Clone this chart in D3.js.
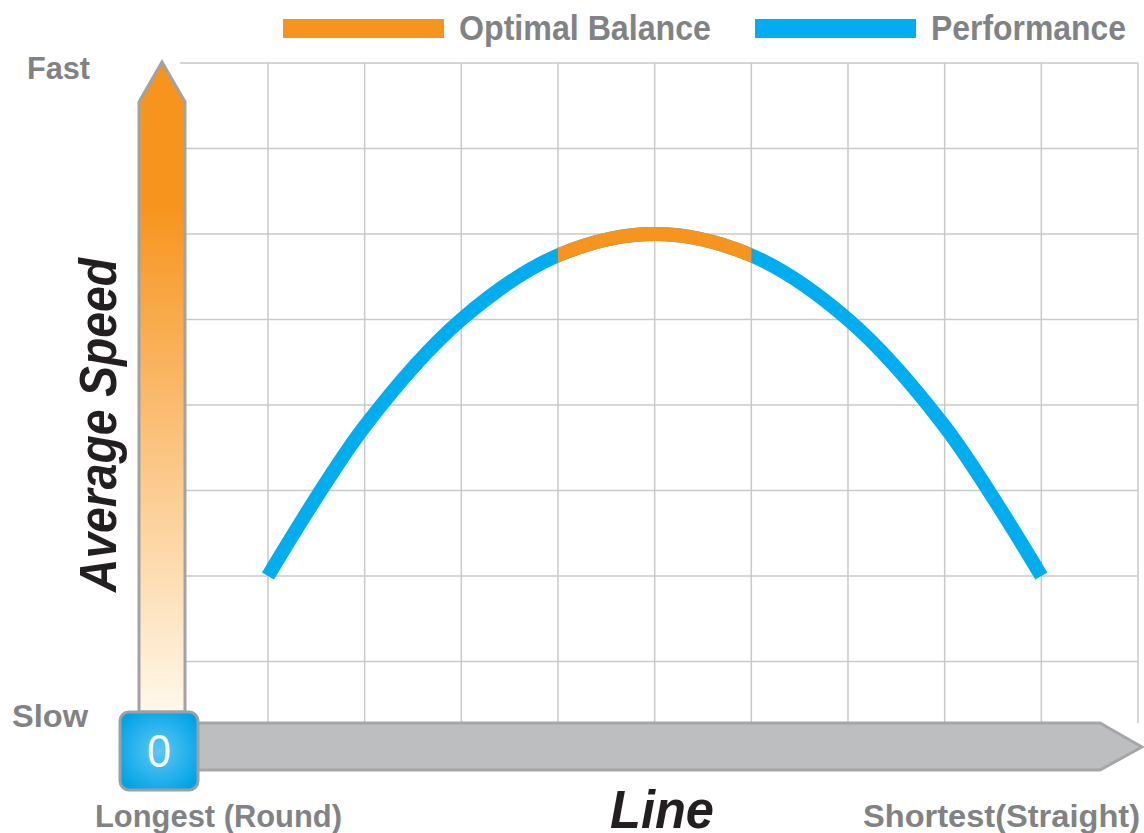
<!DOCTYPE html>
<html>
<head>
<meta charset="utf-8">
<script src="https://cdn.jsdelivr.net/npm/d3@7"></script>
<style>
  html, body { margin: 0; padding: 0; background: #fff; }
  svg { display: block; }
</style>
</head>
<body>
<svg id="chart" width="1144" height="833"></svg>
<script>
// Line position (1 = longest/round … 9 = shortest/straight) and average speed in grid units
const linePositions = [1, 2, 3, 4, 5, 6, 7, 8, 9];
const speedValues   = [2, 3.75, 5, 5.75, 6, 5.75, 5, 3.75, 2];
const balanceRange  = [4, 6];            // stretch of the curve marked "Optimal Balance"
const gridX = [1, 2, 3, 4, 5, 6, 7, 8, 9];
const gridY = [1, 2, 3, 4, 5, 6, 7, 8];
const legendItems = [
  { label: "Optimal Balance", color: "#F7941D" },
  { label: "Performance",     color: "#00AEEF" }
];
const axisLabels = { fast: "Fast", slow: "Slow", left: "Longest (Round)", right: "Shortest(Straight)", x: "Line", y: "Average Speed", origin: "0" };

const svg = d3.select("#chart");
const x = d3.scaleLinear().domain([0, 10]).range([171.3, 1138]);
const y = d3.scaleLinear().domain([0, 8]).range([747, 63]);

const defs = svg.append("defs");
const grad = defs.append("linearGradient").attr("id", "speedGrad")
  .attr("x1", 0).attr("y1", 0).attr("x2", 0).attr("y2", 1);
grad.append("stop").attr("offset", "0%").attr("stop-color", "#F7941D");
grad.append("stop").attr("offset", "22%").attr("stop-color", "#F7941D");
grad.append("stop").attr("offset", "100%").attr("stop-color", "#FFF8EA");

const boxGrad = defs.append("radialGradient").attr("id", "boxGrad")
  .attr("cx", "50%").attr("cy", "50%").attr("r", "60%");
boxGrad.append("stop").attr("offset", "0%").attr("stop-color", "#5CC8F5");
boxGrad.append("stop").attr("offset", "100%").attr("stop-color", "#00A3E6");

defs.append("clipPath").attr("id", "balanceClip")
  .append("rect")
  .attr("x", x(balanceRange[0])).attr("y", 0)
  .attr("width", x(balanceRange[1]) - x(balanceRange[0])).attr("height", 833);

// Grid
const grid = svg.append("g").attr("stroke", "#C9C9C9").attr("stroke-width", 1.5).attr("fill", "none");
grid.selectAll("line.v").data(gridX).join("line")
  .attr("x1", d => x(d)).attr("x2", d => x(d))
  .attr("y1", y(8)).attr("y2", y(0) - 24);
grid.selectAll("line.h").data(gridY).join("line")
  .attr("x1", 180).attr("x2", x(10))
  .attr("y1", d => y(d)).attr("y2", d => y(d));
grid.append("line").attr("x1", x(10)).attr("x2", x(10)).attr("y1", y(8)).attr("y2", y(0) - 24);

// Speed axis arrow
const ax = 162, aw = 23;
svg.append("path")
  .attr("d", `M${ax - aw},712 L${ax - aw},102 L${ax},62 L${ax + aw},102 L${ax + aw},712 Z`)
  .attr("fill", "url(#speedGrad)").attr("stroke", "#A0A2A4").attr("stroke-width", 3)
  .attr("stroke-linejoin", "miter");

// Line axis arrow
svg.append("path")
  .attr("d", `M190,723 L1100,723 L1142,747 L1100,770 L190,770 Z`)
  .attr("fill", "#BCBEC0").attr("stroke", "#A4A6A8").attr("stroke-width", 3);

// Origin box
svg.append("rect").attr("x", 120).attr("y", 712).attr("width", 78).attr("height", 78)
  .attr("rx", 9).attr("fill", "url(#boxGrad)").attr("stroke", "#9D9FA2").attr("stroke-width", 3);
svg.append("text").attr("x", 159).attr("y", 767).attr("text-anchor", "middle")
  .attr("font-family", "'Liberation Sans', sans-serif")
  .attr("font-size", 46).attr("fill", "#fff")
  .attr("textLength", 24).attr("lengthAdjust", "spacingAndGlyphs")
  .text(axisLabels.origin);

// Curve
const pts = linePositions.map((p, i) => [x(p), y(speedValues[i])]);
const line = d3.line().curve(d3.curveCatmullRom.alpha(0.5));
svg.append("path").attr("d", line(pts)).attr("fill", "none")
  .attr("stroke", legendItems[1].color).attr("stroke-width", 14);
svg.append("path").attr("d", line(pts)).attr("fill", "none")
  .attr("clip-path", "url(#balanceClip)")
  .attr("stroke", legendItems[0].color).attr("stroke-width", 14);

// Legend (condensed bold type)
const legendX = [283, 755];
const legendTextW = [252, 195];
const lg = svg.append("g");
legendItems.forEach((it, i) => {
  lg.append("rect").attr("x", legendX[i]).attr("y", 19).attr("width", 161).attr("height", 19).attr("fill", it.color);
  lg.append("text").attr("x", legendX[i] + 176).attr("y", 40)
    .attr("font-family", "'Liberation Sans', sans-serif").attr("font-weight", "bold")
    .attr("font-size", 35).attr("fill", "#808285")
    .attr("textLength", legendTextW[i]).attr("lengthAdjust", "spacingAndGlyphs")
    .text(it.label);
});

// Axis end labels
function lab(txt, px, py, w, anchor) {
  return svg.append("text").attr("x", px).attr("y", py).attr("font-size", 31)
    .attr("font-family", "'Liberation Sans', Arial, sans-serif").attr("font-weight", "bold")
    .attr("fill", "#808285").attr("text-anchor", anchor || "start")
    .attr("textLength", w).attr("lengthAdjust", "spacingAndGlyphs")
    .text(txt);
}
lab(axisLabels.fast, 27, 79, 63);
lab(axisLabels.slow, 12, 727, 76);
lab(axisLabels.left, 95, 827, 247);
lab(axisLabels.right, 1140, 827, 277, "end");

// Axis titles
svg.append("text").attr("x", 610).attr("y", 828)
  .attr("font-family", "'Liberation Sans', sans-serif").attr("font-weight", "bold")
  .attr("font-style", "italic").attr("font-size", 54).attr("fill", "#231F20")
  .attr("textLength", 104).attr("lengthAdjust", "spacingAndGlyphs")
  .text(axisLabels.x);

svg.append("text").attr("transform", "translate(116,592) rotate(-90)")
  .attr("font-family", "'Liberation Sans', sans-serif").attr("font-weight", "bold")
  .attr("font-style", "italic").attr("font-size", 51).attr("fill", "#231F20")
  .attr("textLength", 334).attr("lengthAdjust", "spacingAndGlyphs")
  .text(axisLabels.y);
</script>
</body>
</html>
